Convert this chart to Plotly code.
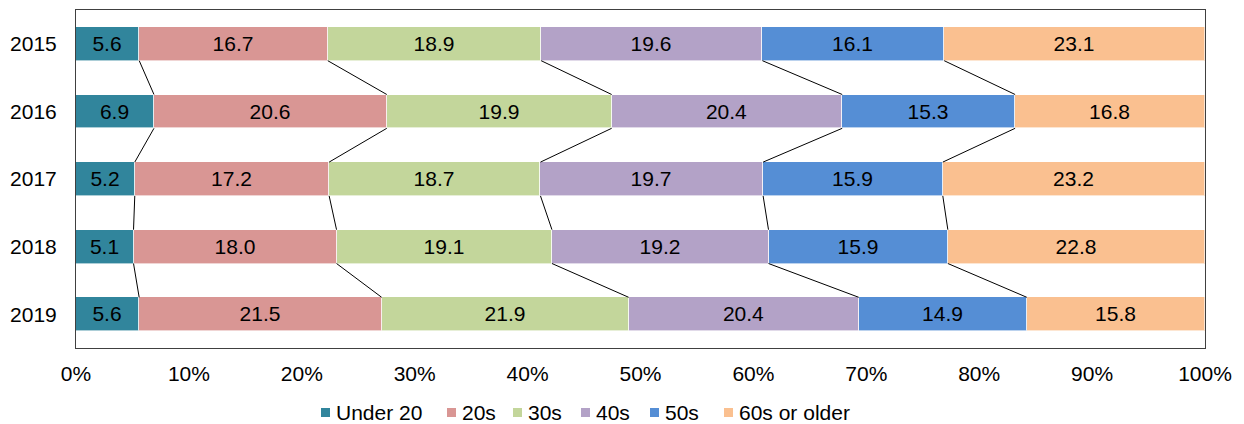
import plotly.graph_objects as go

years = ["2015", "2016", "2017", "2018", "2019"]
groups = ["Under 20", "20s", "30s", "40s", "50s", "60s or older"]
under20 = [5.6, 6.9, 5.2, 5.1, 5.6]
twenties = [16.7, 20.6, 17.2, 18.0, 21.5]
thirties = [18.9, 19.9, 18.7, 19.1, 21.9]
forties = [19.6, 20.4, 19.7, 19.2, 20.4]
fifties = [16.1, 15.3, 15.9, 15.9, 14.9]
sixties_plus = [23.1, 16.8, 23.2, 22.8, 15.8]
x_ticks = [0, 10, 20, 30, 40, 50, 60, 70, 80, 90, 100]

series = [under20, twenties, thirties, forties, fifties, sixties_plus]
colors = ["#31859C", "#D99694", "#C3D69B", "#B3A2C7", "#558ED5", "#FAC090"]

FONT = "Liberation Sans, Arial, sans-serif"
BAR_W = 0.5
ypos = list(range(len(years)))

W, H = 1244, 424
ML, MR, MT, MB = 76, 39, 10, 76
PW, PH = W - ML - MR, H - MT - MB

fig = go.Figure()

for name, vals, col in zip(groups, series, colors):
    fig.add_trace(go.Bar(
        name=name, x=vals, y=ypos, orientation="h", width=BAR_W,
        marker=dict(color=col, line=dict(color="rgba(255,255,255,0.6)", width=1)),
        text=[f"{v:.1f}" for v in vals], textposition="inside",
        insidetextanchor="middle", textangle=0, constraintext="none",
        textfont=dict(family=FONT, size=21, color="#000000"),
        hoverinfo="skip", showlegend=False,
    ))

# series lines joining segment boundaries of neighbouring bars
totals = [sum(s[i] for s in series) for i in range(len(years))]
cums = []
for i in range(len(years)):
    c, row = 0.0, []
    for s in series[:-1]:
        c += s[i]
        row.append(c / totals[i] * 100)
    cums.append(row)

for k in range(len(series) - 1):
    xs, ys = [], []
    for i in range(len(years) - 1):
        xs += [cums[i][k], cums[i + 1][k], None]
        ys += [i + BAR_W / 2, i + 1 - BAR_W / 2, None]
    fig.add_trace(go.Scatter(
        x=xs, y=ys, mode="lines", line=dict(color="#000000", width=1),
        showlegend=False, hoverinfo="skip",
    ))

# legend row below the axis: small square swatch followed by the label
legend_left_px = [321, 447, 513, 581, 650, 724]
legend_cy_px = 412.5
sq = 9


def px_to_paper_x(px):
    return (px - ML) / PW


def px_to_paper_y(py):
    return (H - MB - py) / PH


for name, col, lx in zip(groups, colors, legend_left_px):
    fig.add_shape(
        type="rect", xref="paper", yref="paper",
        x0=px_to_paper_x(lx), x1=px_to_paper_x(lx + sq),
        y0=px_to_paper_y(legend_cy_px + sq / 2), y1=px_to_paper_y(legend_cy_px - sq / 2),
        fillcolor=col, line=dict(width=0),
    )
    fig.add_annotation(
        xref="paper", yref="paper", x=px_to_paper_x(lx + sq + 5),
        y=px_to_paper_y(legend_cy_px), xanchor="left", yanchor="middle",
        text=name, showarrow=False, font=dict(family=FONT, size=21, color="#000000"),
        borderpad=0,
    )

fig.update_layout(
    barmode="stack", barnorm="percent",
    width=W, height=H,
    margin=dict(l=ML, r=MR, t=MT, b=MB, autoexpand=False),
    paper_bgcolor="white", plot_bgcolor="white",
    font=dict(family=FONT, size=21, color="#000000"),
    showlegend=False,
    xaxis=dict(
        range=[0, 100], tickvals=x_ticks, ticktext=[f"{t}%" for t in x_ticks],
        showgrid=False, zeroline=False, showline=True, mirror=True,
        linecolor="#404040", linewidth=1, ticks="", ticklen=0,
        ticklabelstandoff=7,
        tickfont=dict(family=FONT, size=21), fixedrange=True,
    ),
    yaxis=dict(
        range=[len(years) - 0.5, -0.5], tickvals=ypos, ticktext=years,
        showgrid=False, zeroline=False, showline=True, mirror=True,
        linecolor="#404040", linewidth=1, ticks="", ticklen=0,
        ticklabelstandoff=14,
        tickfont=dict(family=FONT, size=21), fixedrange=True,
    ),
    bargap=0,
)

fig.write_html("out.html")
